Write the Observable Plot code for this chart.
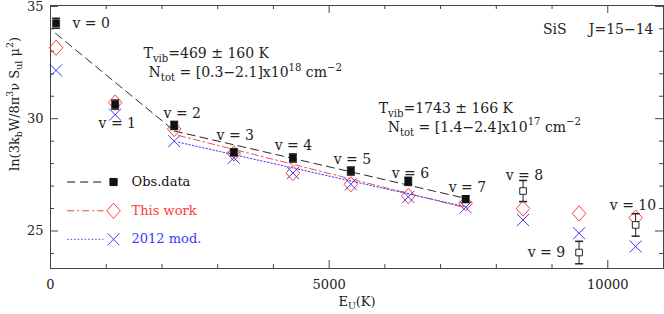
<!DOCTYPE html>
<html><head><meta charset="utf-8">
<script src="https://cdn.jsdelivr.net/npm/d3@7"></script>
<script src="https://cdn.jsdelivr.net/npm/@observablehq/plot@0.6"></script>
<style>body{margin:0;background:#fff;} #chart{width:664px;height:314px;}</style>
</head><body><div id="chart"></div>
<script>
// ---------- data ----------
const levels = ["v = 0","v = 1","v = 2","v = 3","v = 4","v = 5","v = 6","v = 7","v = 8","v = 9","v = 10"];
const energies = [100, 1160, 2220, 3290, 4350, 5390, 6420, 7450, 8480, 9485, 10500];
const obsValues = [34.25, 30.63, 29.70, 28.50, 28.25, 27.67, 27.21, 26.42, 26.78, 24.04, 25.27];
const obsErrors = [0.22, 0.20, 0.18, 0.15, 0.18, 0.18, 0.18, 0.15, 0.47, 0.50, 0.50];
const obsDetected = [true, true, true, true, true, true, true, true, false, false, false];
const thisWork = [33.16, 30.72, 29.54, 28.45, 27.58, 27.08, 26.56, 26.23, 26.00, 25.78, 25.59];
const model2012 = [32.15, 30.18, 29.00, 28.26, 27.58, 27.08, 26.52, 26.05, 25.49, 24.90, 24.31];
// level label anchors (data coordinates)
const labelE = [395, 862, 2029, 2980, 4022, 5081, 6122, 7145, 8169, 8564, 10036];
const labelY = [34.25, 29.79, 30.22, 29.25, 28.81, 28.19, 27.58, 26.92, 27.45, 24.03, 26.15];
// rotational-diagram fits
const fitLowE = [90, 2226], fitLowY = [33.80, 29.45];
const fitHighE = [2226, 7451], fitHighY = [29.45, 26.45];
const fitThisWorkE = [2300, 7420], fitThisWorkY = [29.25, 26.05];
const fitModelE = [2300, 7500], fitModelY = [28.95, 26.05];
// annotations
const noteTexts = ["T_{vib}=469 ± 160 K", "N_{tot} = [0.3\u22122.1]x10^{18} cm^{\u22122}",
                   "T_{vib}=1743 ± 166 K", "N_{tot} = [1.4\u22122.4]x10^{17} cm^{\u22122}"];
const noteE = [1670, 1760, 5889, 6050];
const noteY = [32.92, 32.04, 30.45, 29.62];
const titleText = "SiS\u00a0\u00a0\u00a0\u00a0 J=15\u221214";
const legendLabels = ["Obs.data", "This work", "2012 mod."];
const xTicks = [0, 5000, 10000];
const yTicks = [25, 30, 35];

// ---------- layout / style ----------
const W = 664, H = 314, mL = 50, mR = 1, mT = 5, mB = 46;
const xDom = [0, 11000], yDom = [23.33, 35.04];
const BLACK = "#111", RED = "#ff3a3a", BLUE = "#3a3aff", AX = "#444";
const FONT = "DejaVu Serif";
const pxX = (W - mL - mR) / (xDom[1] - xDom[0]);
const pxY = (H - mT - mB) / (yDom[1] - yDom[0]);

const obs = levels.map((v, i) => ({v, e: energies[i], y: obsValues[i], err: obsErrors[i], det: obsDetected[i]}));
const mdl = levels.map((v, i) => ({e: energies[i], tw: thisWork[i], m: model2012[i]}));
const mkLine = (E, Y) => E.map((e, i) => ({e, y: Y[i]}));

// custom symbols
const sym = (f) => ({draw(ctx, size) { f(ctx, Math.sqrt(size / Math.PI)); }});
const diamond = sym((c, r) => { c.moveTo(0, -r * 1.12); c.lineTo(r, 0); c.lineTo(0, r * 1.12); c.lineTo(-r, 0); c.closePath(); });
const cross = sym((c, r) => { c.moveTo(-r, -r); c.lineTo(r, r); c.moveTo(-r, r); c.lineTo(r, -r); });
const square = sym((c, r) => { c.rect(-r, -r, 2 * r, 2 * r); });
const cap = sym((c, r) => { c.moveTo(-r, 0); c.lineTo(r, 0); });

// inward ticks
const xMinor = d3.range(xDom[0], xDom[1] + 1, 1000);
const yMinor = d3.range(24, 35.01, 1);
const tlen = (major) => major ? 8 : 4;
const tickMarks = [
  Plot.ruleX(xMinor, {x: d => d, y1: () => yDom[0], y2: d => yDom[0] + tlen(d % 5000 === 0) / pxY, stroke: AX}),
  Plot.ruleX(xMinor, {x: d => d, y1: () => yDom[1], y2: d => yDom[1] - tlen(d % 5000 === 0) / pxY, stroke: AX}),
  Plot.ruleY(yMinor, {y: d => d, x1: () => xDom[0], x2: d => xDom[0] + tlen(d % 5 === 0) / pxX, stroke: AX}),
  Plot.ruleY(yMinor, {y: d => d, x1: () => xDom[1], x2: d => xDom[1] - tlen(d % 5 === 0) / pxX, stroke: AX})
];

// legend (inside the frame, lower left)
const legRowsY = [27.18, 25.9, 24.63];
const legColors = [BLACK, RED, BLUE];
const legDash = ["8,5", "7,3,2,3", "1.5,2"];
const legSym = [square, diamond, cross];
const legR = [3.6, 6.8, 6];
const legFill = [BLACK, "none", "none"];
const legendMarks = legendLabels.flatMap((label, i) => [
  Plot.link([label], {x1: () => 300, x2: () => 950, y1: () => legRowsY[i], y2: () => legRowsY[i], stroke: legColors[i], strokeDasharray: legDash[i], strokeWidth: 1}),
  Plot.dot([label], {x: () => 1131, y: () => legRowsY[i], symbol: legSym[i], r: legR[i], stroke: legColors[i], fill: legFill[i], strokeWidth: 1}),
  Plot.text([label], {x: () => 1454, y: () => legRowsY[i], text: d => d, fill: legColors[i], textAnchor: "start", fontSize: 13})
]);

const chart = Plot.plot({
  width: W, height: H, marginLeft: mL, marginRight: mR, marginTop: mT, marginBottom: mB,
  x: {domain: xDom}, y: {domain: yDom},
  style: {fontFamily: FONT, fontSize: "13px", color: "#222", background: "#fff"},
  marks: [
    Plot.frame({stroke: AX}),
    ...tickMarks,
    Plot.axisX({ticks: xTicks, tickSize: 0, tickPadding: 11, label: null, tickFormat: d => String(d), fill: "#222"}),
    Plot.axisY({ticks: yTicks, tickSize: 0, tickPadding: 7, label: null, fill: "#222"}),
    // fits
    Plot.line(mkLine(fitLowE, fitLowY), {x: "e", y: "y", stroke: BLACK, strokeWidth: 0.9, strokeDasharray: "8,5"}),
    Plot.line(mkLine(fitHighE, fitHighY), {x: "e", y: "y", stroke: BLACK, strokeWidth: 0.9, strokeDasharray: "8,5"}),
    Plot.line(mkLine(fitThisWorkE, fitThisWorkY), {x: "e", y: "y", stroke: RED, strokeWidth: 0.9, strokeDasharray: "7,3,2,3"}),
    Plot.line(mkLine(fitModelE, fitModelY), {x: "e", y: "y", stroke: BLUE, strokeWidth: 1, strokeDasharray: "1.5,2"}),
    // models
    Plot.dot(mdl, {x: "e", y: "tw", symbol: diamond, r: 6.8, stroke: RED, fill: "none", strokeWidth: 1}),
    Plot.dot(mdl, {x: "e", y: "m", symbol: cross, r: 6, stroke: BLUE, strokeWidth: 1}),
    // observations with error bars
    Plot.ruleX(obs, {x: "e", y1: d => d.y - d.err, y2: d => d.y + d.err, stroke: "#222"}),
    Plot.dot(obs, {x: "e", y: d => d.y - d.err, symbol: cap, r: 4, stroke: "#222"}),
    Plot.dot(obs, {x: "e", y: d => d.y + d.err, symbol: cap, r: 4, stroke: "#222"}),
    Plot.dot(obs.filter(d => d.det), {x: "e", y: "y", symbol: square, r: 3.6, fill: BLACK, stroke: BLACK, strokeWidth: 0.5}),
    Plot.dot(obs.filter(d => !d.det), {x: "e", y: "y", symbol: square, r: 3.3, fill: "#fff", stroke: "#222", strokeWidth: 1}),
    // level labels
    Plot.text(levels, {x: (d, i) => labelE[i], y: (d, i) => labelY[i], text: d => d, textAnchor: "start", fontSize: 14, fill: "#222"}),
    // annotations
    Plot.text(noteTexts, {x: (d, i) => noteE[i], y: (d, i) => noteY[i], text: d => d, textAnchor: "start", fontSize: 14, fill: "#222"}),
    Plot.text([titleText], {frameAnchor: "top-right", dx: -10, dy: 19, text: d => d, textAnchor: "end", fontSize: 14, fill: "#222"}),
    // legend
    ...legendMarks,
    // axis titles
    Plot.text(["E_{U}(K)"], {frameAnchor: "bottom", dy: 37, text: d => d, textAnchor: "middle", fontSize: 13, fill: "#222"}),
    Plot.text(["ln(3k_{b}W/8\u03c0^{3}\u03bd S_{ul} \u03bc^{2})"], {frameAnchor: "left", dx: -36, dy: -33, rotate: -90, textAnchor: "middle", text: d => d, fontSize: 13, fill: "#222"})
  ]
});
document.getElementById("chart").appendChild(chart);

// rich text: _{sub} and ^{sup}
chart.querySelectorAll("text").forEach(t => {
  const s = t.textContent;
  if (!/[_^]\{/.test(s)) return;
  const fs = parseFloat(getComputedStyle(t).fontSize) || 13;
  t.textContent = "";
  const re = /([_^])\{([^}]*)\}/g;
  let last = 0, m, shift = 0;
  const add = (txt, kind) => {
    const ts = document.createElementNS("http://www.w3.org/2000/svg", "tspan");
    const target = kind === "_" ? 0.28 * fs : kind === "^" ? -0.45 * fs : 0;
    ts.setAttribute("dy", (target - shift).toFixed(2));
    shift = target;
    if (kind) { ts.setAttribute("font-size", (0.72 * fs).toFixed(1)); }
    ts.textContent = txt;
    t.appendChild(ts);
  };
  while ((m = re.exec(s))) {
    if (m.index > last) add(s.slice(last, m.index), null);
    add(m[2], m[1]);
    last = re.lastIndex;
  }
  if (last < s.length) add(s.slice(last), null);
});
</script></body></html>
